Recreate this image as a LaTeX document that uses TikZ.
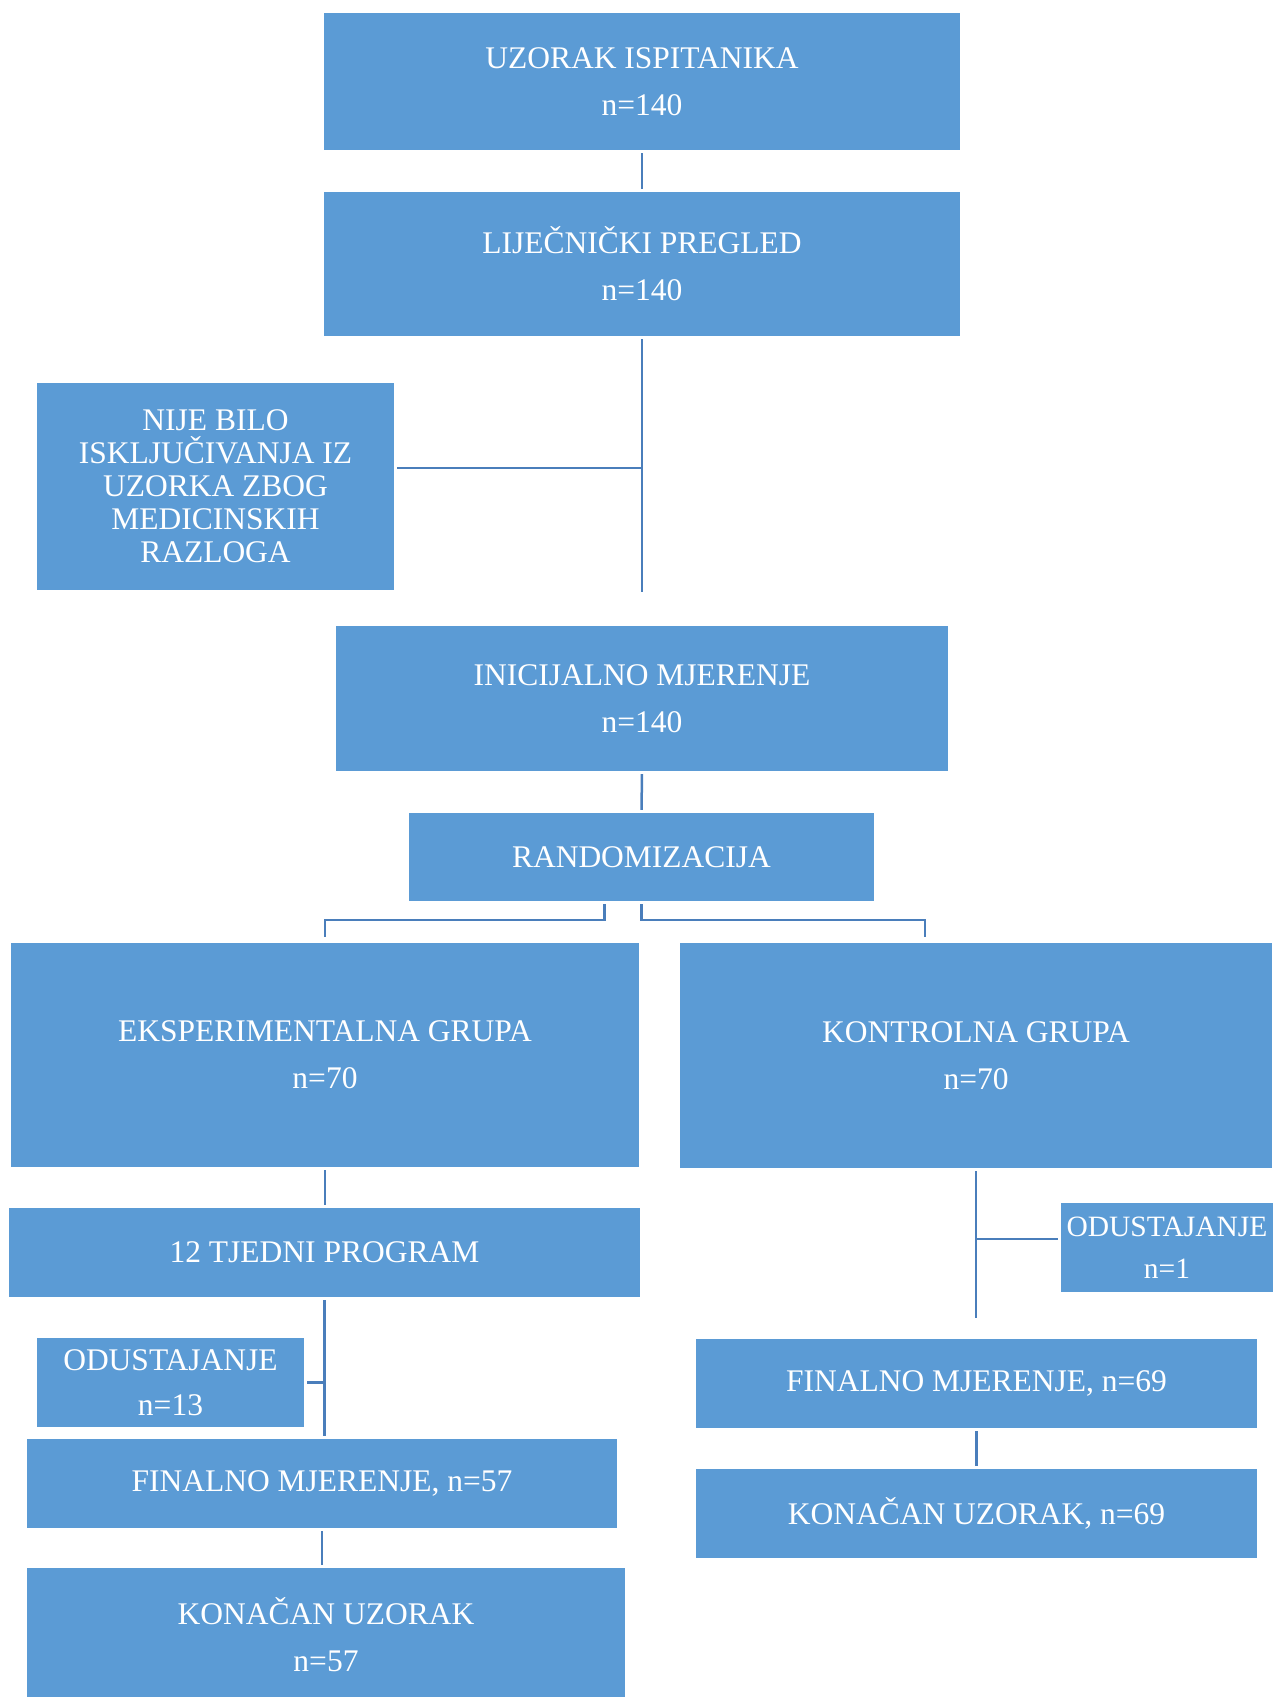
\documentclass[tikz,border=0pt]{standalone}
\usepackage{fontspec}
\setmainfont{Liberation Serif}
\definecolor{boxblue}{RGB}{91,155,213}
\definecolor{lineblue}{RGB}{74,126,187}
\begin{document}
\begin{tikzpicture}[
   x=1pt,y=-1pt,
   font=\fontsize{31.5}{47}\selectfont,
   every node/.style={align=center},
   box/.style={fill=boxblue,text=white,inner sep=0pt},
   link/.style={lineblue,line width=2.5pt,shorten >=3pt,shorten <=3pt}]
\useasboundingbox (0,0) rectangle (1272,1697);
% boxes
\node[box,minimum width=636,minimum height=137] (uzorak) at (642,81.5) {UZORAK ISPITANIKA\\n=140};
\node[box,minimum width=636,minimum height=144] (pregled) at (642,264) {LIJEČNIČKI PREGLED\\n=140};
\node[box,minimum width=357,minimum height=207,font=\fontsize{31.5}{33}\selectfont] (nije) at (215.5,486.5) {NIJE BILO\\ISKLJUČIVANJA IZ\\UZORKA ZBOG\\MEDICINSKIH\\RAZLOGA};
\node[box,minimum width=612,minimum height=145] (inicijalno) at (642,698.5) {INICIJALNO MJERENJE\\n=140};
\node[box,minimum width=465,minimum height=88] (random) at (641.5,857) {RANDOMIZACIJA};
\node[box,minimum width=628,minimum height=224] (eksp) at (325,1055) {EKSPERIMENTALNA GRUPA\\n=70};
\node[box,minimum width=592,minimum height=225] (kontrol) at (976,1055.5) {KONTROLNA GRUPA\\n=70};
\node[box,minimum width=631,minimum height=89] (program) at (324.5,1252.5) {12 TJEDNI PROGRAM};
\node[box,minimum width=267,minimum height=89,font=\fontsize{31.5}{45.5}\selectfont] (odust13) at (170.5,1382.5) {ODUSTAJANJE\\n=13};
\node[box,minimum width=590,minimum height=89] (final57) at (322,1483.5) {FINALNO MJERENJE, n=57};
\node[box,minimum width=598,minimum height=134] (konacan57) at (326,1635) {KONAČAN UZORAK\\n=57};
\node[box,minimum width=212,minimum height=89,font=\fontsize{29.5}{42}\selectfont] (odust1) at (1167,1247.5) {ODUSTAJANJE\\n=1};
\node[box,minimum width=561,minimum height=89] (final69) at (976.5,1383.5) {FINALNO MJERENJE, n=69};
\node[box,minimum width=561,minimum height=89] (konacan69) at (976.5,1513.5) {KONAČAN UZORAK, n=69};
% free ends
\coordinate (pregled end) at (642,595);
\coordinate (nije split) at (642,468);
\coordinate (kontrol end) at (976,1321);
\coordinate (kontrol split) at (976,1239);
% connectors
\draw[link] (uzorak.south) -- (pregled.north);
\draw[link] (pregled.south) -- (pregled end);
\draw[link,shorten >=0pt] (nije.east |- nije split) -- (nije split);
\draw[link] (inicijalno.south) -- (random.north);
\draw[link,shorten >=6pt] ([xshift=-37]random.south) |- ([yshift=23]eksp.north) -- (eksp.north);
\draw[link,shorten >=6pt] (random.south) |- ([xshift=-51,yshift=23]kontrol.north) -- ([xshift=-51]kontrol.north);
\draw[link] (eksp.south) -- (eksp.south |- program.north);
\draw[link] (program.south) -- (program.south |- final57.north);
\draw[link,shorten >=0pt] (odust13.east) -- (program.south |- odust13.east);
\draw[link] (final57.south) -- (final57.south |- konacan57.north);
\draw[link] (kontrol.south) -- (kontrol end);
\draw[link,shorten <=0pt] (kontrol split) -- (odust1.west |- kontrol split);
\draw[link] (final69.south) -- (konacan69.north);
\end{tikzpicture}
\end{document}
